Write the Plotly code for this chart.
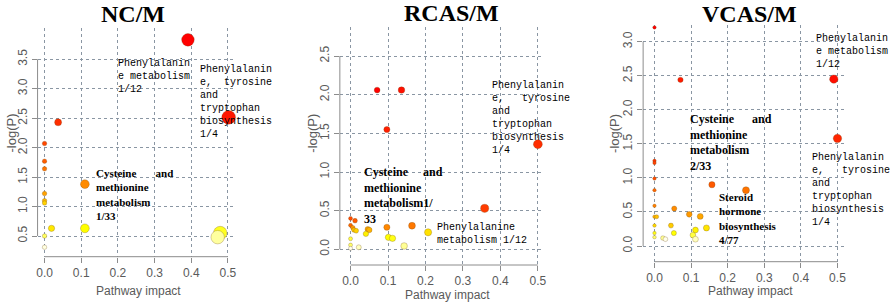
import math
import colorsys
import plotly.graph_objects as go

W, H = 892, 303

# ---------------- data ----------------
titles = ["NC/M", "RCAS/M", "VCAS/M"]

nc_impact = [0.391, 0.502, 0.037, 0.0, 0.0, 0.0, 0.11, 0.0, 0.0, 0.0, 0.019, 0.11, 0.479, 0.0, 0.472, 0.0]
nc_logp   = [3.83, 2.515, 2.43, 2.07, 1.77, 1.64, 1.38, 1.22, 1.10, 1.06, 0.63, 0.63, 0.55, 0.50, 0.48, 0.31]

rc_impact = [0.071, 0.136, 0.097, 0.5, 0.358, 0.0, 0.012, 0.164, 0.0, 0.097, 0.006, 0.046,
             0.05, 0.009, 0.015, 0.207, 0.041, 0.101, 0.112, 0.0, 0.0, 0.143, 0.022, 0.0]
rc_logp   = [2.06, 2.06, 1.55, 1.36, 0.53, 0.40, 0.37, 0.305, 0.31, 0.285, 0.28, 0.26,
             0.25, 0.25, 0.24, 0.22, 0.20, 0.155, 0.142, 0.137, 0.055, 0.043, 0.026, 0.013]

vc_impact = [0.0, 0.071, 0.49, 0.5, 0.0, 0.0, 0.0, 0.0, 0.157, 0.25, 0.0, 0.054, 0.095, 0.125,
             0.0, 0.006, 0.045, 0.0, 0.142, 0.112, 0.053, 0.0, 0.105, 0.0, 0.023, 0.112, 0.03]
vc_logp   = [3.21, 2.44, 2.45, 1.58, 1.25, 1.22, 0.99, 0.82, 0.90, 0.82, 0.59, 0.55, 0.465, 0.435,
             0.43, 0.43, 0.30, 0.30, 0.265, 0.235, 0.19, 0.19, 0.16, 0.13, 0.117, 0.10, 0.10]

x_ticks = [0.0, 0.1, 0.2, 0.3, 0.4, 0.5]
nc_y_ticks = [0.5, 1.0, 1.5, 2.0, 2.5, 3.0, 3.5]
rc_y_ticks = [0.0, 0.5, 1.0, 1.5, 2.0, 2.5]
vc_y_ticks = [0.0, 0.5, 1.0, 1.5, 2.0, 2.5, 3.0]

x_label = "Pathway impact"
y_label = "-log(P)"

NBSP = "\u00a0"
nc_labels = [
    ("Phenylalanin<br>e metabolism<br>1/12", "mono"),
    ("Phenylalanin<br>e," + NBSP * 2 + "tyrosine<br>and<br>tryptophan<br>biosynthesis<br>1/4", "mono"),
    ("Cysteine" + NBSP * 7 + "and<br>methionine<br>metabolism<br>1/33", "bold"),
]
rc_labels = [
    ("Cysteine" + NBSP * 5 + "and<br>methionine<br>metabolism1/<br>33", "bold"),
    ("Phenylalanine<br>metabolism 1/12", "mono"),
    ("Phenylalanin<br>e," + NBSP * 3 + "tyrosine<br>and<br>tryptophan<br>biosynthesis<br>1/4", "mono"),
]
vc_labels = [
    ("Phenylalanin<br>e metabolism<br>1/12", "mono"),
    ("Cysteine" + NBSP * 6 + "and<br>methionine<br>metabolism<br>2/33", "bold"),
    ("Phenylalanin<br>e," + NBSP * 3 + "tyrosine<br>and<br>tryptophan<br>biosynthesis<br>1/4", "mono"),
    ("Steroid<br>hormone<br>biosynthesis<br>4/77", "bold"),
]

# ---------------- layout geometry (pixels) ----------------
panels = [
    dict(impact=nc_impact, logp=nc_logp, yt=nc_y_ticks, labels=nc_labels,
         px=(36.7, 236.0, 28.0, 256.7), xr=(-0.019, 0.5226), yr=(0.1486, 4.031),
         size=(4.5, 13.0), title=(132, 13.5), xt=(138.3, 290.7), yl=(10.5, 133),
         lab_pos=[(116, 57.2, 10), (198.3, 62.9, 10), (94.3, 165.5, 11)]),
    dict(impact=rc_impact, logp=rc_logp, yt=rc_y_ticks, labels=rc_labels,
         px=(340.0, 545.0, 26.7, 265.0), xr=(-0.0285, 0.5168), yr=(-0.203, 2.88),
         size=(4.0, 7.0), title=(451.7, 13.3), xt=(448.3, 295.0), yl=(311.7, 133),
         lab_pos=[(363.3, 164.0, 12), (436, 220.6, 10), (491.7, 78.9, 10)]),
    dict(impact=vc_impact, logp=vc_logp, yt=vc_y_ticks, labels=vc_labels,
         px=(644.3, 847.0, 25.0, 261.7), xr=(-0.031, 0.521), yr=(-0.2305, 3.245),
         size=(3.5, 7.0), title=(751.3, 13.5), xt=(751.7, 291.0), yl=(615.0, 133),
         lab_pos=[(816.5, 32.2, 10), (690.7, 110.7, 12), (812.7, 151.2, 10), (719.3, 190.3, 11)]),
]


def heat_colors(n):
    j = n // 4
    i = n - j
    cols = []
    for k in range(i):
        h = (k / (i - 1)) * (1 / 6) if i > 1 else 0.0
        cols.append(colorsys.hsv_to_rgb(h, 1, 1))
    if j > 0:
        s0, s1 = 1 - 1 / (2 * j), 1 / (2 * j)
        for k in range(j):
            s = s0 + (s1 - s0) * k / (j - 1) if j > 1 else s0
            cols.append(colorsys.hsv_to_rgb(1 / 6, s, 1))
    return ["rgb(%d,%d,%d)" % (round(r * 255), round(g * 255), round(b * 255)) for r, g, b in cols]


def rank_colors(values):
    n = len(values)
    order = sorted(range(n), key=lambda k: -values[k])
    hc = heat_colors(n)
    out = [None] * n
    for r, k in enumerate(order):
        out[k] = hc[r]
    return out


fig = go.Figure()
annotations = []
shapes = []
GRID = "#8a96a3"
AX = "#8c8c8c"
TXT = "#5a5a5a"

for p, pan in enumerate(panels):
    n = p + 1
    xa = "x" if n == 1 else "x%d" % n
    ya = "y" if n == 1 else "y%d" % n
    L, R, T, B = pan["px"]
    base, k = pan["size"]
    sizes = [base + k * math.sqrt(v) for v in pan["impact"]]
    fig.add_trace(go.Scatter(
        x=pan["impact"], y=pan["logp"], mode="markers", xaxis=xa, yaxis=ya,
        marker=dict(size=sizes, color=rank_colors(pan["logp"]), opacity=1,
                    line=dict(color="rgba(110,70,20,0.45)", width=0.6)),
        showlegend=False, hoverinfo="x+y"))

    xkey = "xaxis" if n == 1 else "xaxis%d" % n
    ykey = "yaxis" if n == 1 else "yaxis%d" % n
    fig.update_layout(**{
        xkey: dict(domain=[L / W, R / W], range=list(pan["xr"]), anchor=ya,
                   tickvals=x_ticks, tickformat=".1f", showgrid=True, gridcolor=GRID,
                   griddash="dot", gridwidth=1, zeroline=False, showline=False,
                   ticks="outside", ticklen=5, tickcolor=AX,
                   tickfont=dict(family="Liberation Sans", size=12, color=TXT)),
        ykey: dict(domain=[1 - B / H, 1 - T / H], range=list(pan["yr"]), anchor=xa,
                   tickvals=pan["yt"], tickformat=".1f", showgrid=True, gridcolor=GRID,
                   griddash="dot", gridwidth=1, zeroline=False, showline=False,
                   ticks="outside", ticklen=5, tickcolor=AX, tickangle=-90,
                   tickfont=dict(family="Liberation Sans", size=12, color=TXT)),
    })
    # R-style axis lines spanning first to last tick
    shapes.append(dict(type="line", xref=xa, yref=ya + " domain", x0=x_ticks[0], x1=x_ticks[-1],
                       y0=0, y1=0, line=dict(color=AX, width=1)))
    shapes.append(dict(type="line", xref=xa + " domain", yref=ya, x0=0, x1=0,
                       y0=pan["yt"][0], y1=pan["yt"][-1], line=dict(color=AX, width=1)))

    tx, ty = pan["title"]
    annotations.append(dict(text="<b>%s</b>" % titles[p], x=tx / W, y=1 - ty / H, xref="paper", yref="paper",
                            xanchor="center", yanchor="middle", showarrow=False,
                            font=dict(family="Liberation Serif", size=24, color="black")))
    xx, xy = pan["xt"]
    annotations.append(dict(text=x_label, x=xx / W, y=1 - xy / H, xref="paper", yref="paper",
                            xanchor="center", yanchor="middle", showarrow=False,
                            font=dict(family="Liberation Sans", size=12, color=TXT)))
    yx, yy = pan["yl"]
    annotations.append(dict(text=y_label, x=yx / W, y=1 - yy / H, xref="paper", yref="paper",
                            xanchor="center", yanchor="middle", showarrow=False, textangle=-90,
                            font=dict(family="Liberation Sans", size=13, color=TXT)))
    for (txt, style), (lx, ly, fs) in zip(pan["labels"], pan["lab_pos"]):
        if style == "bold":
            fnt = dict(family="Liberation Serif", size=fs, color="black")
            txt = "<b>" + txt.replace("<br>", "</b><br><b>") + "</b>"
        else:
            fnt = dict(family="Liberation Mono", size=fs, color="black")
        annotations.append(dict(text=txt, x=lx / W, y=1 - ly / H, xref="paper", yref="paper",
                                xanchor="left", yanchor="top", align="left", showarrow=False,
                                borderpad=0, font=fnt))

fig.update_layout(width=W, height=H, margin=dict(l=0, r=0, t=0, b=0),
                  paper_bgcolor="white", plot_bgcolor="white",
                  annotations=annotations, shapes=shapes)

fig.write_html("out.html", config={"displayModeBar": False},
               post_script="document.body.style.margin='0';document.body.style.overflow='hidden';")
